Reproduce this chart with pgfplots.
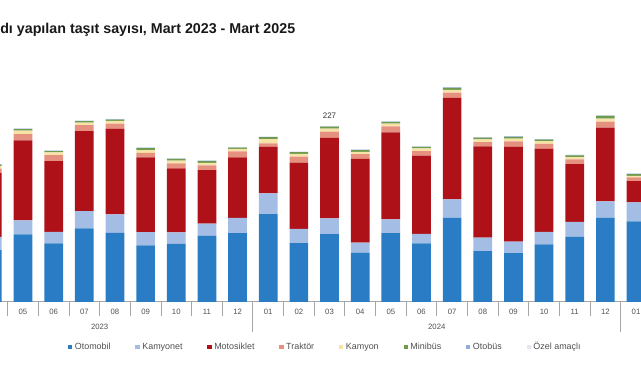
\documentclass[border=0pt]{standalone}
\usepackage{fontspec}
\setmainfont{Liberation Sans}
\usepackage{pgfplots}
\pgfplotsset{compat=1.18}
\usepackage{pgfplotstable}
\definecolor{cOto}{HTML}{2A7DC4}
\definecolor{cKmt}{HTML}{A3BDE5}
\definecolor{cMoto}{HTML}{AE1218}
\definecolor{cTrak}{HTML}{E6907F}
\definecolor{cKam}{HTML}{F7E3A8}
\definecolor{cMini}{HTML}{6E9B4E}
\definecolor{cOtob}{HTML}{8FAEDC}
\definecolor{cOzel}{HTML}{E4E8EE}
\definecolor{cGrid}{HTML}{A6A6A6}
\definecolor{cTxt}{HTML}{505050}
\pgfplotsset{sq legend/.style={legend image code/.code={\fill[##1] (0pt,-1.6pt) rectangle (3.2pt,1.6pt);}}}
\pgfplotstableread{
i oto kam moto trak kamy mini otob ozel
1 66.6 17.2 82.8 5.5 3.3 1.8 0.5 0.4
2 86.9 18.1 103.5 8.1 4.3 2.2 0.5 0.4
3 75.3 15.0 91.4 7.8 3.5 1.7 0.5 0.4
4 94.7 22.4 103.1 7.8 3.4 1.8 0.5 0.4
5 89.0 23.8 110.7 6.5 3.5 1.7 0.5 0.4
6 72.7 17.2 96.6 5.9 3.5 2.6 0.5 0.4
7 74.8 14.7 82.8 6.5 3.4 2.2 0.5 0.4
8 85.6 15.5 68.9 6.1 3.4 2.2 0.5 0.4
9 88.6 19.8 78.1 7.8 3.0 1.7 0.5 0.4
10 113.2 26.8 60.3 4.4 5.2 2.6 0.5 0.4
11 75.7 18.5 85.4 7.8 3.5 2.2 0.5 0.4
12 87.3 20.3 104.2 7.8 3.9 2.6 0.5 0.4
13 63.6 12.9 108.1 6.1 3.0 2.2 0.5 0.4
14 88.6 17.7 112.5 7.8 3.4 2.2 0.5 0.4
15 75.3 12.4 100.9 6.1 3.5 1.7 0.5 0.4
16 108.4 23.8 131.0 6.9 3.5 2.6 0.5 0.4
17 65.3 17.7 117.7 5.6 3.5 2.1 0.5 0.4
18 62.7 14.9 122.9 6.7 3.6 2.2 0.5 0.4
19 74.0 16.3 107.4 6.1 3.5 2.1 0.5 0.4
20 83.8 19.4 74.6 6.1 3.0 2.2 0.5 0.4
21 108.4 21.2 95.2 7.8 3.9 3.5 0.5 0.4
22 103.7 24.6 27.5 4.8 2.1 2.2 0.5 0.4
}\data
\begin{document}
\begin{tikzpicture}
\useasboundingbox (0,0) rectangle (480.75pt,285pt);
\node[anchor=base west, inner sep=0pt, font=\bfseries\fontsize{10.7pt}{12pt}\selectfont, text=black!90] at (0pt,260pt) {dı yapılan taşıt sayısı, Mart 2023 - Mart 2025};
\begin{axis}[
  at={(0pt,58.65pt)}, anchor=south west,
  scale only axis, width=480.75pt, height=196.35pt,
  xmin=1.2496, xmax=22.163, ymin=0, ymax=338,
  ybar stacked, bar width=0.61,
  axis x line*=bottom, axis y line=none,
  x axis line style={-, draw=cGrid, line width=0.6pt},
  xtick={2,...,22},
  xticklabels={05,06,07,08,09,10,11,12,01,02,03,04,05,06,07,08,09,10,11,12,01},
  major tick length=0pt,
  minor xtick={1.5,2.5,...,21.5},
  minor tick length=11pt,
  tick align=outside,
  tick style={draw=cGrid, line width=0.6pt},
  extra x ticks={9.5,21.5}, extra x tick labels={},
  extra x tick style={major tick length=22.3pt},
  xticklabel style={font=\fontsize{5.8pt}{7pt}\selectfont, text=cTxt, anchor=base, yshift=-9.4pt},
  ytick=\empty,
  clip mode=individual,
  legend style={at={(axis description cs:0.508,-0.1727)}, anchor=center, draw=none, fill=none,
    font=\fontsize{6.7pt}{8pt}\selectfont, text=cTxt, inner sep=0pt,
    /tikz/every even column/.append style={column sep=16.6pt}},
  legend columns=8,
]
\addplot[fill=cOto, draw=none, sq legend] table[x=i,y=oto]{\data}; \addlegendentry{Otomobil}
\addplot[fill=cKmt, draw=none, sq legend] table[x=i,y=kam]{\data}; \addlegendentry{Kamyonet}
\addplot[fill=cMoto, draw=none, sq legend] table[x=i,y=moto]{\data}; \addlegendentry{Motosiklet}
\addplot[fill=cTrak, draw=none, sq legend] table[x=i,y=trak]{\data}; \addlegendentry{Traktör}
\addplot[fill=cKam, draw=none, sq legend] table[x=i,y=kamy]{\data}; \addlegendentry{Kamyon}
\addplot[fill=cMini, draw=none, sq legend] table[x=i,y=mini]{\data}; \addlegendentry{Minibüs}
\addplot[fill=cOtob, draw=none, sq legend] table[x=i,y=otob]{\data}; \addlegendentry{Otobüs}
\addplot[fill=cOzel, draw=none, sq legend] table[x=i,y=ozel]{\data}; \addlegendentry{Özel amaçlı}
\node[font=\fontsize{6pt}{7pt}\selectfont, text=black!80, anchor=base, yshift=5.8pt] at (axis cs:12,227) {227};
\node[font=\fontsize{5.8pt}{7pt}\selectfont, text=cTxt, anchor=base, yshift=-20.85pt] at (axis cs:4.5,0) {2023};
\node[font=\fontsize{5.8pt}{7pt}\selectfont, text=cTxt, anchor=base, yshift=-20.85pt] at (axis cs:15.5,0) {2024};
\end{axis}
\end{tikzpicture}
\end{document}
